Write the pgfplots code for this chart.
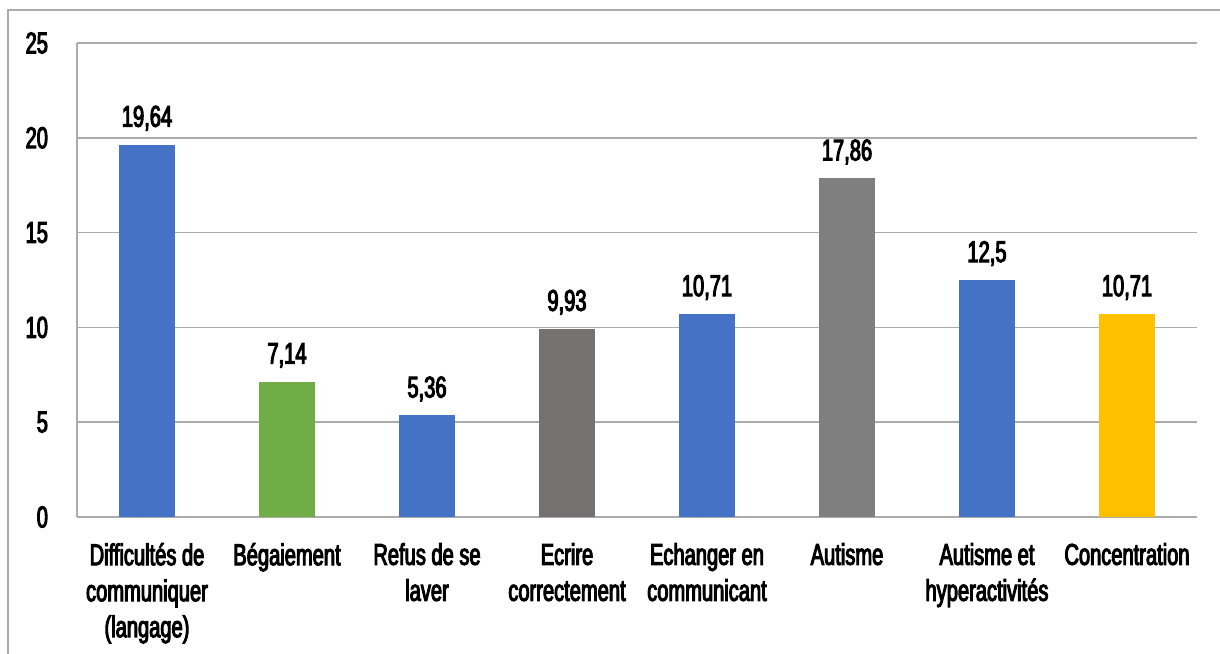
\documentclass[border=0pt]{standalone}
\usepackage{pgfplots}
\pgfplotsset{compat=1.18}
\usepackage{fontspec}
\setmainfont{Liberation Sans}[FakeStretch=0.67,FakeBold=3.5]
\definecolor{cblue}{HTML}{4472C4}
\definecolor{cgreen}{HTML}{70AD47}
\definecolor{cgrayd}{HTML}{767171}
\definecolor{cgray}{HTML}{7F7F7F}
\definecolor{cyel}{HTML}{FFC000}
\definecolor{gridc}{HTML}{ABABAB}
\begin{document}
\begin{tikzpicture}
\useasboundingbox (-38.5pt,-68pt) rectangle (571.5pt,258.5pt);
\draw[gridc,line width=0.6pt] (-34.5pt,-70pt) -- (-34.5pt,253.5pt) -- (575pt,253.5pt);
\begin{axis}[
  at={(0,0)}, anchor=south west,
  scale only axis, width=560pt, height=237pt,
  xmin=-0.5, xmax=7.5, ymin=0, ymax=25,
  ytick={0,5,...,25},
  xtick={0,...,7},
  xticklabels={{Difficultés de\\communiquer\\(langage)},{Bégaiement},{Refus de se\\laver},{Ecrire\\correctement},{Echanger en\\communicant},{Autisme},{Autisme et\\hyperactivités},{Concentration}},
  x tick label style={align=center, font=\fontsize{15}{18}\selectfont, yshift=-9.5pt},
  y tick label style={font=\fontsize{15}{18}\selectfont, xshift=-11pt},
  /pgf/number format/assume math mode=true,
  major tick length=0pt,
  axis x line*=bottom, axis y line*=left,
  axis line style={gridc, line width=0.8pt},
  ymajorgrids, grid style={gridc, line width=0.8pt},
  ybar, bar width=28pt, bar shift=0pt,
  nodes near coords={\pgfmathprintnumber[use comma,precision=2]{\pgfplotspointmeta}},
  every node near coord/.append style={font=\fontsize{15}{18}\selectfont, black, yshift=3.5pt},
  clip=false,
]
\addplot[draw=none, fill=cblue] coordinates {(0,19.64)};
\addplot[draw=none, fill=cgreen] coordinates {(1,7.14)};
\addplot[draw=none, fill=cblue] coordinates {(2,5.36)};
\addplot[draw=none, fill=cgrayd] coordinates {(3,9.93)};
\addplot[draw=none, fill=cblue] coordinates {(4,10.71)};
\addplot[draw=none, fill=cgray] coordinates {(5,17.86)};
\addplot[draw=none, fill=cblue] coordinates {(6,12.5)};
\addplot[draw=none, fill=cyel] coordinates {(7,10.71)};
\end{axis}
\end{tikzpicture}
\end{document}
